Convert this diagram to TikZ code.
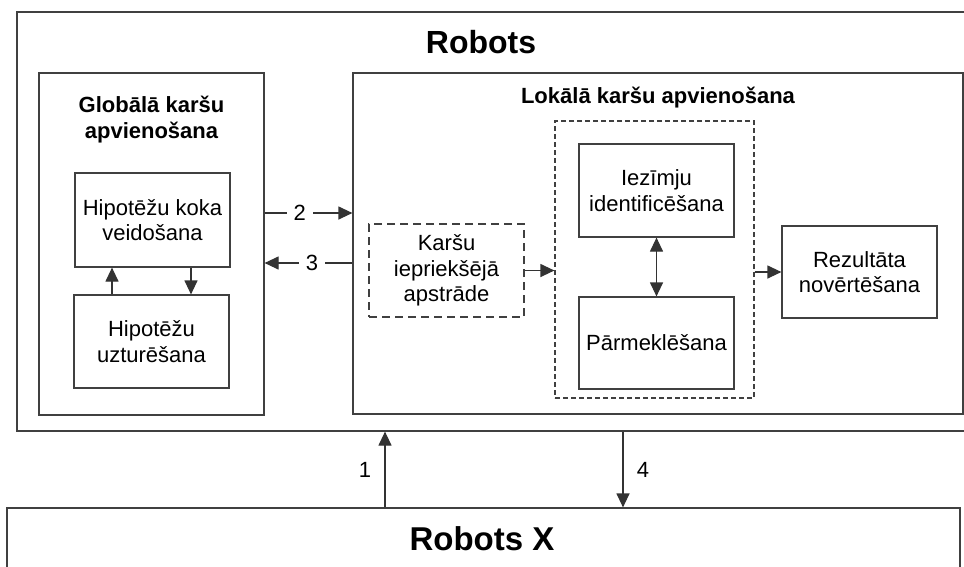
\documentclass[tikz,border=0pt]{standalone}
\usepackage{fontspec}
\setmainfont{Liberation Sans}
\usetikzlibrary{arrows.meta}

\tikzset{
  box/.style={draw=black!75, line width=1.2pt, inner sep=0pt, align=center,
    font=\fontsize{22}{25.5}\selectfont},
  dashbox/.style={box, dash pattern=on 8pt off 5pt},
  groupbox/.style={box, dash pattern=on 5pt off 3pt},
  head/.style={font=\bfseries\fontsize{22}{25.5}\selectfont, align=center, anchor=base},
  num/.style={fill=white, inner sep=7pt, font=\fontsize{22}{25.5}\selectfont},
  arr/.style={draw=black!80, line width=1.2pt}
}

\begin{document}
\begin{tikzpicture}[x=1pt, y=-1pt, >={Triangle[length=14pt,width=13pt]}]
      \useasboundingbox (0,0) rectangle (964,566);
      \fill[white] (0,0) rectangle (964,566);
      \clip (0,0) rectangle (964,566);

      \node[box, minimum width=983pt, minimum height=419pt] (robots) at (508.5,221.5) {};
      \node[head, font=\bfseries\fontsize{32}{36}\selectfont] (robotsTitle) at (481,53) {Robots};

      \node[box, minimum width=225pt, minimum height=342pt] (global) at (151.5,244) {};
      \node[head] (globalTitle) at (151.5,138) {Globālā karšu\\apvienošana};
      \node[box, minimum width=155pt, minimum height=94pt] (koka) at (152.5,220) {Hipotēžu koka\\veidošana};
      \node[box, minimum width=155pt, minimum height=93pt] (uztur) at (151.5,341.5) {Hipotēžu\\uzturēšana};

      \node[box, minimum width=610pt, minimum height=341pt] (lokala) at (658,243.5) {};
      \node[head] (lokalaTitle) at (658,103) {Lokālā karšu apvienošana};
      \node[dashbox, minimum width=155pt, minimum height=93pt] (karsu) at (446.5,270.5) {Karšu\\iepriekšējā\\apstrāde};
      \node[groupbox, minimum width=199pt, minimum height=277pt] (group) at (654.5,259.5) {};
      \node[box, minimum width=155pt, minimum height=93pt] (iezimju) at (656.5,190.5) {Iezīmju\\identificēšana};
      \node[box, minimum width=155pt, minimum height=92pt] (parmek) at (656.5,343) {Pārmeklēšana};
      \node[box, minimum width=155pt, minimum height=92pt] (rezult) at (859.5,272) {Rezultāta\\novērtēšana};

      \node[box, minimum width=953pt, minimum height=92pt] (robotsX) at (483.5,554) {};
      \node[head, font=\bfseries\fontsize{33}{36}\selectfont] (robotsXTitle) at (482,550) {Robots X};

      \coordinate (a1) at (385,0);
      \coordinate (a4) at (623,0);
      \coordinate (a2) at (0,213);
      \coordinate (a3) at (0,263);
      \coordinate (a5) at (112,0);
      \coordinate (a6) at (191,0);

      \draw[arr, ->] (global.east|-a2) -- node[num, pos=0.4] {2} (lokala.west|-a2);
      \draw[arr, ->] (lokala.west|-a3) -- node[num, pos=0.46] {3} (global.east|-a3);
      \draw[arr, ->] (uztur.north-|a5) -- (koka.south-|a5);
      \draw[arr, ->] (koka.south-|a6) -- (uztur.north-|a6);
      \draw[arr, ->] (karsu.east) -- (karsu.east-|group.west);
      \draw[arr, <->] (iezimju) -- (parmek);
      \draw[arr, ->] (group.east|-rezult) -- (rezult.west);
      \draw[arr, ->] (robotsX.north-|a1) -- node[left=10pt, font=\fontsize{22}{25.5}\selectfont] {1} (robots.south-|a1);
      \draw[arr, ->] (robots.south-|a4) -- node[right=10pt, font=\fontsize{22}{25.5}\selectfont] {4} (robotsX.north-|a4);
\end{tikzpicture}
\end{document}
